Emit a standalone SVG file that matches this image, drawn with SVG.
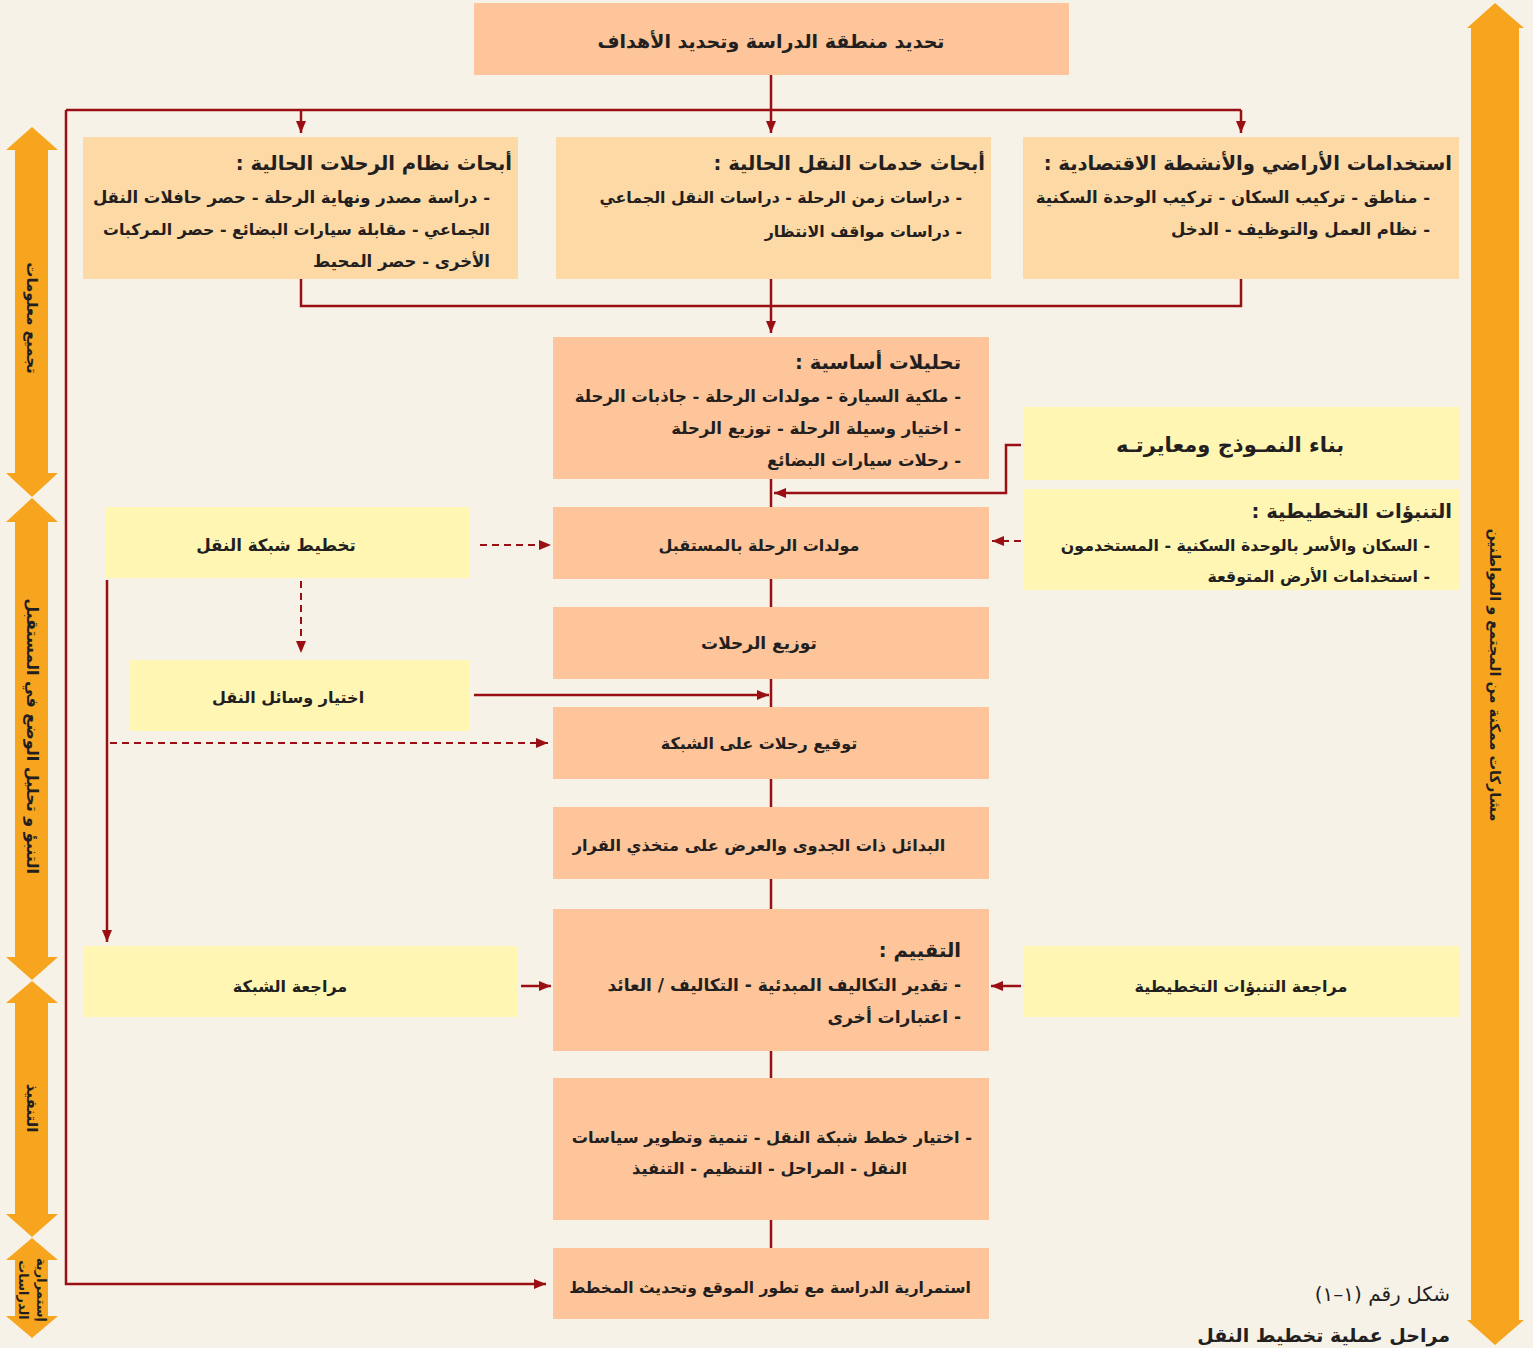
<svg xmlns="http://www.w3.org/2000/svg" width="1533" height="1348" viewBox="0 0 1533 1348">
<style>
text{font-family:"DejaVu Sans","Noto Sans",sans-serif;font-weight:bold;fill:#231f20;direction:rtl}
.t{font-size:19.6px}
.b{font-size:16.5px}
.c{font-size:16px;text-anchor:middle}
.r{text-anchor:start}
.pk{fill:#fdc599}
.lt{fill:#fdd9a5}
.yl{fill:#fff6b4}
.ln{fill:none;stroke:#9a0f14;stroke-width:2.5}
.ds{fill:none;stroke:#9a0f14;stroke-width:2;stroke-dasharray:7 5}
.ar{fill:#f7a51f}
.vt{font-size:15px;text-anchor:middle}
</style>
<defs>
<marker id="ah" viewBox="0 0 12 10" refX="12" refY="5" markerWidth="12" markerHeight="10" markerUnits="userSpaceOnUse" orient="auto">
<path d="M0,0 L12,5 L0,10 Z" fill="#9a0f14"/>
</marker>
</defs>
<rect width="1533" height="1348" fill="#f7f2e7"/>

<g id="connectors">
<path class="ln" d="M771,75 V110"/>
<path class="ln" d="M66,110 H1241"/>
<path class="ln" d="M301,110 V133" marker-end="url(#ah)"/>
<path class="ln" d="M771,110 V133" marker-end="url(#ah)"/>
<path class="ln" d="M1241,110 V133" marker-end="url(#ah)"/>
<path class="ln" d="M66,110 V1284 H546" marker-end="url(#ah)"/>
<path class="ln" d="M301,279 V306 H1241 V279"/>
<path class="ln" d="M771,279 V333" marker-end="url(#ah)"/>
<path class="ln" d="M771,479 V1248"/>
<path class="ln" d="M1021,445 H1006 V493 H774" marker-end="url(#ah)"/>
<path class="ds" d="M1021,541 H992" marker-end="url(#ah)"/>
<path class="ds" d="M480,545 H551" marker-end="url(#ah)"/>
<path class="ds" d="M301,581 V653" marker-end="url(#ah)"/>
<path class="ln" d="M107,580 V942" marker-end="url(#ah)"/>
<path class="ln" d="M474,695 H769" marker-end="url(#ah)"/>
<path class="ds" d="M110,743 H548" marker-end="url(#ah)"/>
<path class="ln" d="M521,986 H551" marker-end="url(#ah)"/>
<path class="ln" d="M1021,986 H991" marker-end="url(#ah)"/>
</g>

<g id="side-arrows">
<polygon class="ar" points="32,127 58,150 48,150 48,473 58,473 32,497 6,473 15,473 15,150 6,150"/>
<polygon class="ar" points="32,498 58,522 48,522 48,957 58,957 32,980 6,957 15,957 15,522 6,522"/>
<polygon class="ar" points="32,981 58,1003 48,1003 48,1214 58,1214 32,1237 6,1214 15,1214 15,1003 6,1003"/>
<polygon class="ar" points="32,1238 58,1260 48,1260 48,1316 58,1316 32,1338 6,1316 15,1316 15,1260 6,1260"/>
<polygon class="ar" points="1495,3 1524,28 1519,28 1519,1320 1524,1320 1495,1345 1467,1320 1471,1320 1471,28 1467,28"/>
<text class="vt" transform="translate(27,318) rotate(90)">تجميع معلومات</text>
<text class="vt" style="font-size:16px" transform="translate(27,736) rotate(90)">التنبؤ و تحليل الوضع في المستقبل</text>
<text class="vt" transform="translate(27,1108) rotate(90)">التنفيذ</text>
<text class="vt" style="font-size:13px" transform="translate(37,1290) rotate(90)">إستمرارية</text>
<text class="vt" style="font-size:13px" transform="translate(19,1290) rotate(90)">الدراسات</text>
<text class="vt" style="font-size:14.5px" transform="translate(1490,675) rotate(90)">مشاركات ممكنة من المجتمع و المواطنين</text>
</g>

<g id="n-top">
<rect class="pk" x="474" y="3" width="595" height="72"/>
<text class="c" style="font-size:19px" x="771" y="48">تحديد منطقة الدراسة وتحديد الأهداف</text>
</g>

<g id="n-trips">
<rect class="lt" x="83" y="137" width="435" height="142"/>
<text class="t r" x="512" y="170">أبحاث نظام الرحلات الحالية :</text>
<text class="b r" x="490" y="203">- دراسة مصدر ونهاية الرحلة - حصر حافلات النقل</text>
<text class="b r" style="font-size:15.8px" x="490" y="235">الجماعي - مقابلة سيارات البضائع - حصر المركبات</text>
<text class="b r" x="490" y="267">الأخرى - حصر المحيط</text>
</g>

<g id="n-services">
<rect class="lt" x="556" y="137" width="435" height="142"/>
<text class="t r" x="985" y="170">أبحاث خدمات النقل الحالية :</text>
<text class="b r" style="font-size:15.8px" x="962" y="203">- دراسات زمن الرحلة - دراسات النقل الجماعي</text>
<text class="b r" style="font-size:15.8px" x="962" y="237">- دراسات مواقف الانتظار</text>
</g>

<g id="n-landuse">
<rect class="lt" x="1023" y="137" width="436" height="142"/>
<text class="t r" x="1452" y="170">استخدامات الأراضي والأنشطة الاقتصادية :</text>
<text class="b r" x="1430" y="203">- مناطق - تركيب السكان - تركيب الوحدة السكنية</text>
<text class="b r" x="1430" y="235">- نظام العمل والتوظيف - الدخل</text>
</g>

<g id="n-analysis">
<rect class="pk" x="553" y="337" width="436" height="142"/>
<text class="t r" x="961" y="369">تحليلات أساسية :</text>
<text class="b r" x="961" y="402">- ملكية السيارة - مولدات الرحلة - جاذبات الرحلة</text>
<text class="b r" x="961" y="434">- اختيار وسيلة الرحلة - توزيع الرحلة</text>
<text class="b r" x="961" y="466">- رحلات سيارات البضائع</text>
</g>

<g id="n-model">
<rect class="yl" x="1023" y="407" width="436" height="73"/>
<text class="c" style="font-size:21px" x="1230" y="452">بناء النمـوذج ومعايرتـه</text>
</g>

<g id="n-forecast">
<rect class="yl" x="1023" y="489" width="436" height="101"/>
<text class="t r" x="1452" y="518">التنبؤات التخطيطية :</text>
<text class="b r" style="font-size:15.8px" x="1430" y="551">- السكان والأسر بالوحدة السكنية - المستخدمون</text>
<text class="b r" style="font-size:15.8px" x="1430" y="582">- استخدامات الأرض المتوقعة</text>
</g>

<g id="n-network-plan">
<rect class="yl" x="105" y="507" width="365" height="71"/>
<text class="c" style="font-size:16.7px" x="276" y="551">تخطيط شبكة النقل</text>
</g>

<g id="n-generation">
<rect class="pk" x="553" y="507" width="436" height="72"/>
<text class="c" x="759" y="551">مولدات الرحلة بالمستقبل</text>
</g>

<g id="n-distribution">
<rect class="pk" x="553" y="607" width="436" height="72"/>
<text class="c" style="font-size:17px" x="759" y="649">توزيع الرحلات</text>
</g>

<g id="n-mode">
<rect class="yl" x="130" y="660" width="339" height="71"/>
<text class="c" x="288" y="703">اختيار وسائل النقل</text>
</g>

<g id="n-assignment">
<rect class="pk" x="553" y="707" width="436" height="72"/>
<text class="c" x="759" y="749">توقيع رحلات على الشبكة</text>
</g>

<g id="n-alternatives">
<rect class="pk" x="553" y="807" width="436" height="72"/>
<text class="c" style="font-size:16.2px" x="759" y="851">البدائل ذات الجدوى والعرض على متخذي القرار</text>
</g>

<g id="n-evaluation">
<rect class="pk" x="553" y="909" width="436" height="142"/>
<text class="t r" x="961" y="957">التقييم :</text>
<text class="b r" style="font-size:17px" x="961" y="991">- تقدير التكاليف المبدئية - التكاليف / العائد</text>
<text class="b r" style="font-size:17px" x="961" y="1023">- اعتبارات أخرى</text>
</g>

<g id="n-network-review">
<rect class="yl" x="83" y="946" width="435" height="71"/>
<text class="c" x="290" y="992">مراجعة الشبكة</text>
</g>

<g id="n-forecast-review">
<rect class="yl" x="1023" y="946" width="436" height="71"/>
<text class="c" x="1241" y="992">مراجعة التنبؤات التخطيطية</text>
</g>

<g id="n-implementation">
<rect class="pk" x="553" y="1078" width="436" height="142"/>
<text class="b r" style="font-size:16.2px" x="972" y="1143">- اختيار خطط شبكة النقل - تنمية وتطوير سياسات</text>
<text class="b r" style="font-size:16.2px" x="907" y="1174">النقل - المراحل - التنظيم - التنفيذ</text>
</g>

<g id="n-continuity">
<rect class="pk" x="553" y="1248" width="436" height="71"/>
<text class="c" style="font-size:15.5px" x="770" y="1293">استمرارية الدراسة مع تطور الموقع وتحديث المخطط</text>
</g>

<g id="caption">
<text class="r" style="font-size:20px;font-weight:normal" x="1450" y="1301">شكل رقم (١–١)</text>
<text class="r" style="font-size:19px" x="1450" y="1342">مراحل عملية تخطيط النقل</text>
</g>
</svg>
